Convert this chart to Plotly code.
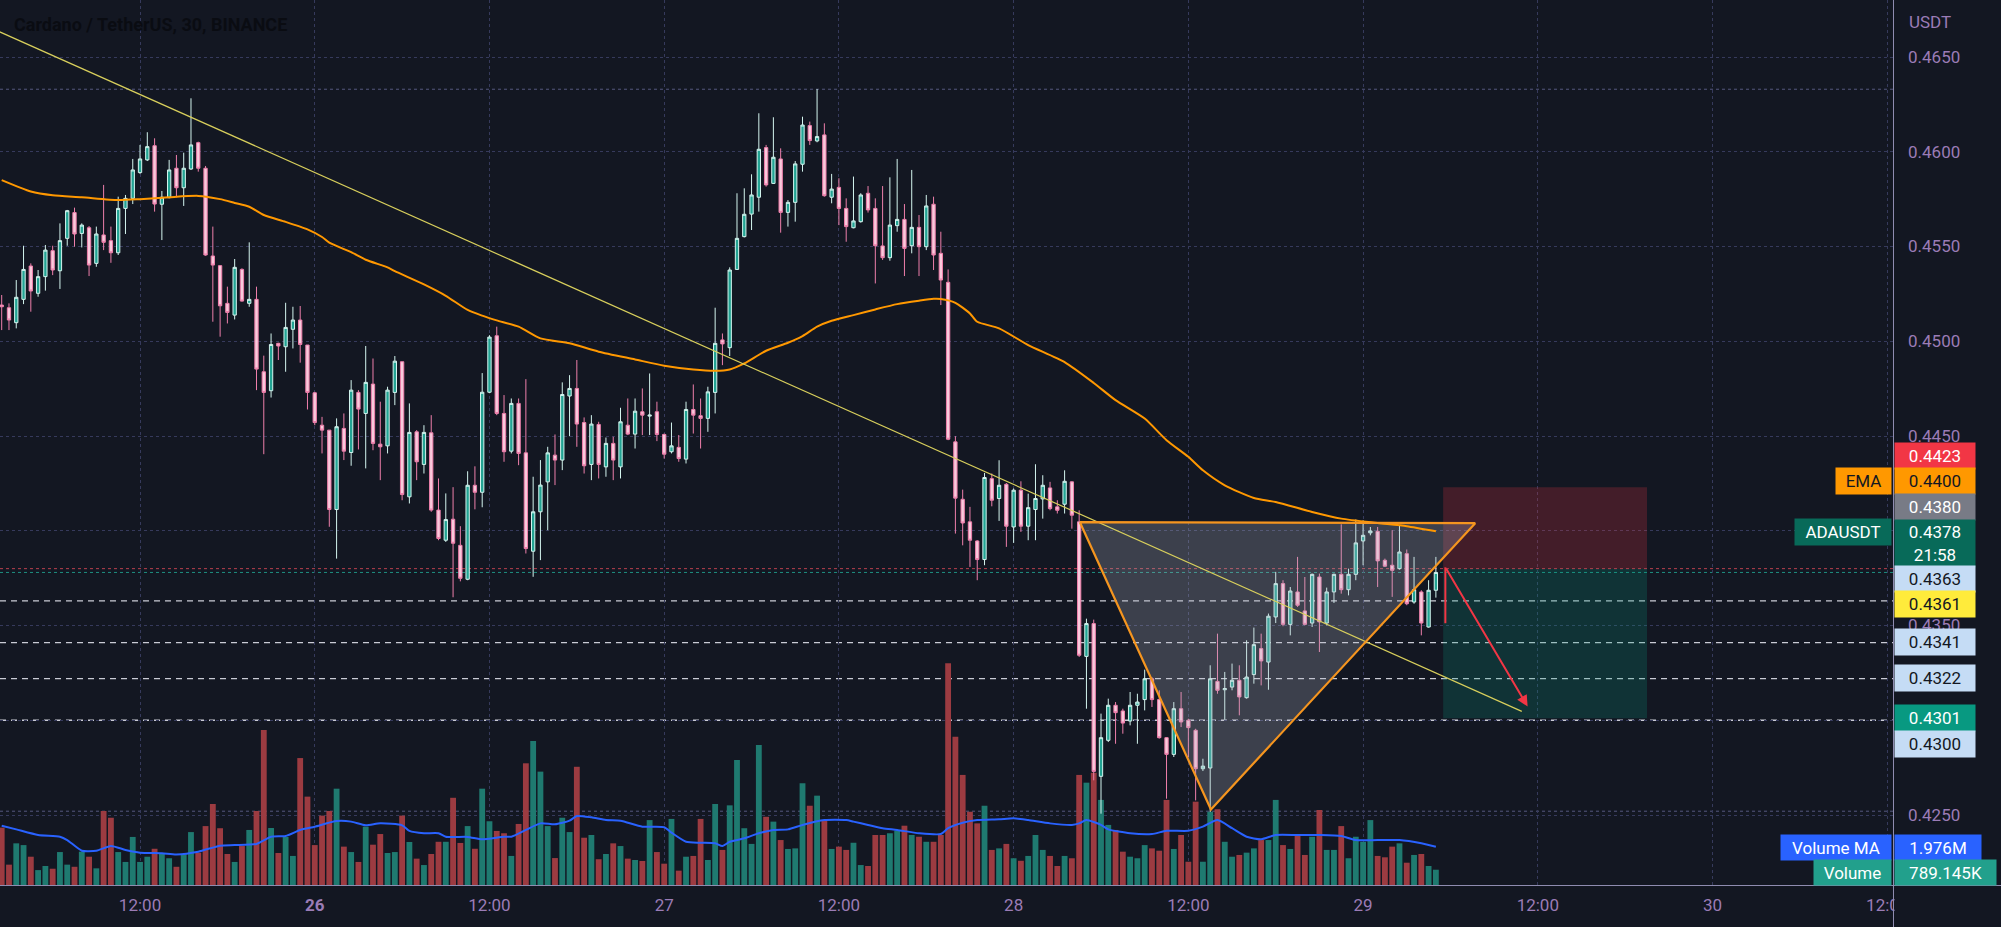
import pandas as pd
import plotly.graph_objects as go

FONT = "Roboto"
BG = "#131722"
AXIS_TXT = "#9b7cb6"

start = pd.Timestamp("2022-09-25 02:30")
step = pd.Timedelta(minutes=30)

opens = [0.45191,0.45177,0.45098,0.45221,0.45397,0.45253,0.45341,0.45478,0.45372,0.45543,
0.45679,0.45569,0.45599,0.45411,0.45561,0.45531,0.45467,0.45701,0.45754,0.45890,
0.45957,0.46032,0.45723,0.45758,0.45913,0.45810,0.45909,0.46048,0.45913,0.45450,
0.45399,0.45200,0.45138,0.45379,0.45200,0.45221,0.44839,0.44739,0.44989,0.44971,
0.45063,0.45112,0.44980,0.44728,0.44557,0.44531,0.44112,0.44540,0.44413,0.44730,
0.44619,0.44774,0.44457,0.44448,0.44730,0.44892,0.44179,0.44522,0.44350,0.44517,
0.44109,0.43950,0.44061,0.43923,0.43744,0.44240,0.44203,0.44731,0.45029,0.44619,
0.44420,0.44672,0.44411,0.43892,0.44100,0.44258,0.44399,0.44373,0.44711,0.44751,
0.44571,0.44350,0.44561,0.44337,0.44461,0.44337,0.44557,0.44510,0.44628,0.44605,
0.44628,0.44508,0.44417,0.44440,0.44378,0.44640,0.44607,0.44593,0.44730,0.45007,
0.44966,0.45379,0.45552,0.45671,0.45760,0.46022,0.45833,0.45962,0.45680,0.45733,
0.45934,0.46138,0.46057,0.46089,0.45760,0.45812,0.45701,0.45599,0.45631,0.45781,
0.45701,0.45503,0.45441,0.45610,0.45643,0.45504,0.45601,0.45499,0.45723,0.45464,
0.45311,0.44469,0.44166,0.44047,0.43946,0.43848,0.44275,0.44170,0.44245,0.44020,
0.44214,0.44024,0.44112,0.44168,0.44226,0.44126,0.44140,0.44258,0.44047,0.43337,
0.43510,0.42704,0.42894,0.43079,0.43049,0.42996,0.43079,0.43109,0.43219,0.43109,
0.42908,0.42820,0.43061,0.43000,0.42947,0.42744,0.42748,0.43205,0.43161,0.43175,
0.43211,0.43119,0.43241,0.43378,0.43307,0.43545,0.43721,0.43506,0.43677,0.43577,
0.43513,0.43756,0.43513,0.43677,0.43770,0.43689,0.43770,0.43946,0.43989,0.43997,
0.43844,0.43818,0.43800,0.43879,0.43624,0.43677,0.43492,0.43686]

highs = [0.45244,0.45200,0.45323,0.45504,0.45411,0.45376,0.45508,0.45504,0.45622,0.45693,
0.45705,0.45622,0.45608,0.45605,0.45825,0.45605,0.45763,0.45772,0.45962,0.46036,
0.46103,0.46071,0.45793,0.45957,0.45983,0.45995,0.46282,0.46053,0.45925,0.45605,
0.45402,0.45288,0.45434,0.45385,0.45522,0.45288,0.44924,0.45041,0.44992,0.45203,
0.45182,0.45186,0.44980,0.44733,0.44601,0.44531,0.44593,0.44619,0.44795,0.44742,
0.44975,0.44909,0.44681,0.44760,0.44922,0.44892,0.44672,0.44531,0.44557,0.44610,
0.44276,0.44197,0.44230,0.44024,0.44314,0.44340,0.44832,0.45032,0.45077,0.44716,
0.44698,0.44698,0.44800,0.44285,0.44373,0.44443,0.44508,0.44783,0.44821,0.44901,
0.44598,0.44610,0.44575,0.44492,0.44496,0.44649,0.44698,0.44698,0.44751,0.44830,
0.44681,0.44513,0.44571,0.44505,0.44681,0.44772,0.44698,0.44760,0.45177,0.45041,
0.45390,0.45781,0.45807,0.45881,0.46203,0.46036,0.46182,0.46018,0.45745,0.45951,
0.46185,0.46159,0.46331,0.46150,0.45883,0.45860,0.45754,0.45869,0.45781,0.45819,
0.45754,0.45819,0.45865,0.45962,0.45724,0.45904,0.45666,0.45772,0.45763,0.45578,
0.45379,0.44499,0.44217,0.44126,0.43950,0.44305,0.44302,0.44372,0.44252,0.44223,
0.44261,0.44196,0.44351,0.44293,0.44258,0.44161,0.44319,0.44261,0.44108,0.43536,
0.43531,0.43035,0.43114,0.43096,0.43061,0.43149,0.43140,0.43267,0.43228,0.43158,
0.42911,0.43096,0.43149,0.43008,0.42955,0.42797,0.43290,0.43457,0.43255,0.43299,
0.43290,0.43422,0.43489,0.43457,0.43563,0.43783,0.43739,0.43703,0.43862,0.43756,
0.43774,0.43774,0.43700,0.43774,0.44034,0.43800,0.44059,0.44055,0.44020,0.44020,
0.43853,0.44003,0.44029,0.43901,0.43862,0.43686,0.43739,0.43862]

lows = [0.45059,0.45059,0.45068,0.45196,0.45156,0.45235,0.45267,0.45349,0.45276,0.45504,
0.45499,0.45495,0.45344,0.45393,0.45481,0.45414,0.45455,0.45566,0.45724,0.45883,
0.45951,0.45684,0.45534,0.45754,0.45760,0.45714,0.45904,0.45895,0.45451,0.45103,
0.45024,0.45094,0.45115,0.45209,0.45182,0.44742,0.44404,0.44703,0.44901,0.44839,
0.44962,0.44887,0.44640,0.44557,0.44408,0.44021,0.43853,0.44373,0.44343,0.44429,
0.44329,0.44425,0.44267,0.44408,0.44663,0.44161,0.44144,0.44267,0.44302,0.44100,
0.43950,0.43941,0.43649,0.43733,0.43739,0.44113,0.44124,0.44726,0.44610,0.44364,
0.44408,0.44346,0.43880,0.43757,0.43845,0.44003,0.44241,0.44320,0.44499,0.44443,
0.44302,0.44267,0.44276,0.44285,0.44267,0.44276,0.44505,0.44434,0.44505,0.44505,
0.44473,0.44381,0.44408,0.44364,0.44355,0.44513,0.44434,0.44522,0.44619,0.44874,
0.44922,0.45376,0.45548,0.45587,0.45684,0.45816,0.45830,0.45573,0.45605,0.45631,
0.45895,0.46036,0.46050,0.45763,0.45728,0.45613,0.45525,0.45596,0.45626,0.45679,
0.45305,0.45429,0.45425,0.45578,0.45344,0.45464,0.45344,0.45481,0.45376,0.45191,
0.44478,0.43985,0.43923,0.43809,0.43739,0.43818,0.44129,0.44052,0.43915,0.43936,
0.43994,0.43950,0.43950,0.44064,0.44108,0.44091,0.44091,0.44011,0.43334,0.43061,
0.42683,0.42507,0.42885,0.42876,0.42929,0.42973,0.42876,0.43052,0.43070,0.42903,
0.42586,0.42806,0.42964,0.42806,0.42577,0.42732,0.42516,0.43140,0.43003,0.43158,
0.43026,0.43114,0.43193,0.43184,0.43161,0.43513,0.43496,0.43448,0.43598,0.43501,
0.43492,0.43360,0.43501,0.43619,0.43668,0.43659,0.43739,0.43818,0.43976,0.43703,
0.43809,0.43651,0.43795,0.43607,0.43615,0.43448,0.43489,0.43647]

closes = [0.45182,0.45112,0.45232,0.45379,0.45265,0.45341,0.45481,0.45376,0.45531,0.45689,
0.45566,0.45613,0.45402,0.45566,0.45522,0.45467,0.45701,0.45754,0.45904,0.45962,
0.46027,0.45724,0.45760,0.45904,0.45810,0.45913,0.46036,0.45913,0.45455,0.45402,
0.45187,0.45152,0.45390,0.45212,0.45221,0.44853,0.44730,0.44983,0.44975,0.45073,
0.45112,0.44983,0.44730,0.44571,0.44531,0.44112,0.44549,0.44420,0.44742,0.44642,
0.44783,0.44461,0.44443,0.44742,0.44895,0.44191,0.44519,0.44364,0.44519,0.44109,
0.43959,0.44059,0.43934,0.43749,0.44240,0.44203,0.44731,0.45022,0.44619,0.44417,
0.44672,0.44408,0.43906,0.44100,0.44241,0.44411,0.44373,0.44719,0.44751,0.44563,
0.44343,0.44563,0.44350,0.44461,0.44373,0.44575,0.44510,0.44631,0.44610,0.44610,
0.44508,0.44404,0.44448,0.44381,0.44640,0.44610,0.44593,0.44733,0.44989,0.44986,
0.45376,0.45543,0.45670,0.45772,0.46013,0.45825,0.45971,0.45680,0.45733,0.45936,
0.46141,0.46059,0.46080,0.45768,0.45803,0.45701,0.45605,0.45635,0.45772,0.45693,
0.45504,0.45441,0.45613,0.45643,0.45490,0.45601,0.45499,0.45714,0.45455,0.45323,
0.44483,0.44172,0.44041,0.43950,0.43848,0.44281,0.44161,0.44240,0.44024,0.44214,
0.44024,0.44122,0.44170,0.44240,0.44117,0.44108,0.44261,0.44082,0.43343,0.43510,
0.42730,0.42908,0.43079,0.43040,0.42985,0.43079,0.43096,0.43219,0.43109,0.42908,
0.42820,0.43061,0.42991,0.42961,0.42744,0.42758,0.43219,0.43158,0.43167,0.43211,
0.43123,0.43228,0.43399,0.43313,0.43549,0.43721,0.43506,0.43682,0.43607,0.43506,
0.43770,0.43519,0.43677,0.43770,0.43689,0.43770,0.43936,0.43976,0.43999,0.43841,
0.43813,0.43791,0.43888,0.43615,0.43689,0.43513,0.43686,0.43780]

volumes_m = [2.96,1.05,2.15,2.06,1.46,0.77,0.98,0.84,1.70,1.05,
0.94,1.72,1.46,0.86,3.82,3.47,1.70,1.19,2.48,1.19,
1.46,1.87,1.64,1.38,0.94,1.58,2.73,1.67,3.04,4.18,
2.93,1.60,1.19,2.01,2.84,3.82,8.00,2.94,1.65,2.48,
1.50,6.55,4.56,2.06,3.58,3.82,4.97,1.98,1.70,1.19,
3.01,2.08,2.63,1.65,1.70,3.58,2.22,1.36,1.03,1.60,
2.23,2.23,4.50,2.17,3.04,1.87,4.97,3.29,2.79,2.67,
1.50,3.15,6.28,7.43,5.85,3.04,1.39,3.47,2.73,6.10,
2.44,2.58,1.33,1.60,2.15,2.01,1.36,1.29,1.24,3.35,
1.70,1.10,3.41,0.74,1.46,1.50,3.41,1.29,4.18,1.81,
4.11,6.45,2.93,2.12,7.22,3.52,3.27,2.32,1.86,1.89,
5.25,4.09,4.61,3.35,1.86,1.98,1.81,2.18,1.03,0.98,
2.58,2.58,2.67,2.80,3.06,2.58,2.49,2.23,2.23,2.58,
11.44,7.65,5.68,3.78,3.18,4.09,1.81,1.89,2.12,1.38,
1.25,1.50,2.58,1.81,1.50,0.98,1.50,1.38,5.68,5.28,
5.79,4.39,3.10,2.84,1.72,1.46,1.38,2.06,1.89,1.77,
4.39,1.86,2.58,1.20,4.30,1.20,3.78,3.91,2.23,1.46,
1.55,1.67,1.89,2.32,2.32,4.39,2.06,1.86,2.53,1.55,
2.49,3.87,1.81,1.81,3.04,1.38,2.49,2.23,3.35,1.50,
1.43,1.98,2.15,1.15,1.55,1.60,0.98,0.789145]

# EMA at candle numbers
ema_idx = [1,5,8,12,17,20,24,28,31,33,35,37,40,43,45,46,49,51,54,55,59,62,65,67,69,
           72,75,79,83,88,92,96,99,101,103,106,109,111,113,115,118,121,124,127,129,130,
           132,134,135,138,142,147,151,154,158,161,164,166,169,173,176,181,185,190,194,198]
ema_val = [0.4585,0.4579,0.4577,0.4576,0.45745,0.4575,0.4576,0.45767,0.4575,0.4573,0.4571,
           0.45666,0.4563,0.4559,0.4555,0.4552,0.4547,0.4543,0.4539,0.4537,0.4530,0.4524,
           0.45165,0.45135,0.4511,0.45077,0.45015,0.44989,0.44945,0.44904,0.44871,0.44851,
           0.44844,0.44851,0.44883,0.4495,0.44992,0.45027,0.45077,0.45108,0.45138,0.45168,
           0.45196,0.45214,0.45224,0.45223,0.45203,0.45147,0.45103,0.45068,0.4498,0.4489,
           0.4478,0.44689,0.44592,0.44478,0.4439,0.44319,0.4424,0.44173,0.44152,0.44099,
           0.44064,0.44041,0.44024,0.43997]

# Volume MA (millions)
vma_idx = [1,3,6,9,10,12,14,16,18,20,23,25,28,31,33,36,38,40,42,44,47,49,51,53,56,57,59,
           61,62,65,67,70,71,73,75,77,79,80,82,84,86,89,92,93,95,97,99,100,101,103,105,107,
           109,111,114,117,118,120,122,124,127,130,131,133,135,138,140,142,145,148,149,150,
           152,153,156,159,161,164,166,168,170,172,174,176,179,182,185,187,190,193,196,198]
vma_val = [3.06,2.87,2.58,2.49,2.32,1.77,1.77,2.01,1.81,1.67,1.64,1.58,1.72,2.03,2.06,2.12,
           2.49,2.53,2.84,3.01,3.30,3.27,3.08,3.18,3.08,2.79,2.67,2.67,2.49,2.48,2.36,2.49,
           2.49,2.84,3.18,3.13,3.32,3.56,3.49,3.35,3.32,3.01,2.98,2.70,2.23,2.18,2.15,2.01,
           2.23,2.41,2.67,2.84,2.87,3.10,3.35,3.35,3.27,3.10,2.93,2.84,2.67,2.63,2.93,3.21,
           3.35,3.39,3.44,3.35,3.18,3.10,3.18,3.35,3.10,2.87,2.67,2.63,2.80,2.80,3.01,3.35,
           2.93,2.49,2.36,2.58,2.58,2.58,2.53,2.32,2.32,2.32,2.15,1.976]

# horizontal levels
dashed_levels = [0.4363, 0.4341, 0.4322, 0.4300]
session_high, session_low = 0.4633, 0.4252
entry, stop, target = 0.4380, 0.4423, 0.4301
last_price = 0.4378

# drawings, (candle number, price)
trend_pts = [(-5, 0.46731), (209.8, 0.43047)]
triangle_pts = [(149.1, 0.44045), (167.1, 0.42529), (203.4, 0.44040)]
arrow_from, arrow_to = (199.3, 0.43807), (210.6, 0.43073)
arrow_stem = [(199.3, 0.43807), (199.3, 0.43512)]
box_x = (199.0, 227.0)

y_ticks = [0.4250, 0.4300, 0.4350, 0.4400, 0.4450, 0.4500, 0.4550, 0.4600, 0.4650]
x_tick_idx = [20, 44, 68, 92, 116, 140, 164, 188, 212, 236, 260]
x_tick_txt = ["12:00", "<b>26</b>", "12:00", "27", "12:00", "28", "12:00", "29", "12:00", "30", "12:00"]

# ---------------------------------------------------------------
W, H = 2001, 927
MR, MB = 108, 42
PW, PH = W - MR, H - MB


def t(idx):
    return start + (idx - 1) * step


def pxx(x):
    return x / PW


def pyy(y):
    return 1 - y / PH


n = len(opens)
times = [t(i + 1) for i in range(n)]
up = [c >= o for o, c in zip(opens, closes)]
vol_colors = ["#1f7a70" if u else "#9c3b41" for u in up]

fig = go.Figure()

fig.add_trace(go.Bar(x=times, y=volumes_m, marker=dict(color=vol_colors, line=dict(width=0)),
                     width=0.8 * 30 * 60 * 1000, yaxis="y", hoverinfo="skip"))
fig.add_trace(go.Scatter(x=[t(i) for i in vma_idx], y=vma_val, mode="lines", yaxis="y",
                         line=dict(color="#2962ff", width=2, shape="spline", smoothing=0.6)))

# position boxes (long/short tool)
for y0, y1, col in ((entry, stop, "rgba(242,54,69,0.22)"), (target, entry, "rgba(8,153,129,0.22)")):
    fig.add_trace(go.Scatter(x=[t(box_x[0]), t(box_x[1]), t(box_x[1]), t(box_x[0]), t(box_x[0])],
                             y=[y0, y0, y1, y1, y0], mode="lines", fill="toself", fillcolor=col,
                             line=dict(width=0), yaxis="y2", hoverinfo="skip"))

tri_x = [t(p[0]) for p in triangle_pts] + [t(triangle_pts[0][0])]
tri_y = [p[1] for p in triangle_pts] + [triangle_pts[0][1]]
fig.add_trace(go.Scatter(x=tri_x, y=tri_y, mode="lines", fill="toself",
                         fillcolor="rgba(178,181,196,0.26)", line=dict(width=0), yaxis="y2"))

fig.add_trace(go.Candlestick(
    x=times, open=opens, high=highs, low=lows, close=closes, yaxis="y2",
    increasing=dict(fillcolor="#22a393", line=dict(color="#d4f5ef", width=1)),
    decreasing=dict(fillcolor="#f9cadc", line=dict(color="#ee7fab", width=1)),
    whiskerwidth=0))

fig.add_trace(go.Scatter(x=[t(i) for i in ema_idx], y=ema_val, mode="lines", yaxis="y2",
                         line=dict(color="#ff9800", width=2, shape="spline", smoothing=0.6)))
fig.add_trace(go.Scatter(x=[t(p[0]) for p in trend_pts], y=[p[1] for p in trend_pts],
                         mode="lines", yaxis="y2", line=dict(color="#d8cf5c", width=1.2)))
fig.add_trace(go.Scatter(x=tri_x, y=tri_y, mode="lines", yaxis="y2",
                         line=dict(color="#f5951f", width=2.2)))
fig.add_trace(go.Scatter(x=[t(p[0]) for p in arrow_stem], y=[p[1] for p in arrow_stem],
                         mode="lines", yaxis="y2", line=dict(color="#f23645", width=2)))

shapes = []
for lv in dashed_levels:
    shapes.append(dict(type="line", xref="paper", yref="y2", x0=0, x1=1, y0=lv, y1=lv,
                       line=dict(color="rgba(235,235,245,0.85)", width=1.3, dash="6px,5px"),
                       layer="below"))
for lv in (session_high, session_low):
    shapes.append(dict(type="line", xref="paper", yref="y2", x0=0, x1=1, y0=lv, y1=lv,
                       line=dict(color="#55587f", width=1, dash="dot"), layer="below"))
shapes.append(dict(type="line", xref="paper", yref="y2", x0=0, x1=1, y0=entry, y1=entry,
                   line=dict(color="#b8404f", width=1, dash="dot"), layer="below"))
shapes.append(dict(type="line", xref="paper", yref="y2", x0=0, x1=1, y0=last_price, y1=last_price,
                   line=dict(color="#1e8f80", width=1, dash="dot"), layer="below"))
# axis frame lines
shapes.append(dict(type="line", xref="paper", yref="paper", x0=pxx(PW + 0.5), x1=pxx(PW + 0.5),
                   y0=pyy(H), y1=1, line=dict(color="#8f8cb0", width=1)))
shapes.append(dict(type="line", xref="paper", yref="paper", x0=0, x1=pxx(W),
                   y0=pyy(PH + 0.5), y1=pyy(PH + 0.5), line=dict(color="#8f8cb0", width=1)))

annotations = []
# mask: time labels are clipped at the price scale, as in the original
annotations.append(dict(xref="paper", yref="paper", x=pxx(PW + 1), y=pyy(907), xanchor="left",
                        yanchor="middle", text=" ", showarrow=False, bgcolor=BG,
                        width=W - PW - 1, height=36, borderpad=0))
annotations.append(dict(xref="paper", yref="paper", x=pxx(12), y=pyy(25), xanchor="left", yanchor="middle",
                        text="<b>Cardano / TetherUS, 30, BINANCE</b>", showarrow=False,
                        font=dict(family=FONT, size=18, color="#0a0c12")))
annotations.append(dict(xref="paper", yref="paper", x=pxx(1907), y=pyy(22), xanchor="left", yanchor="middle",
                        text="USDT", showarrow=False, font=dict(family=FONT, size=17, color=AXIS_TXT)))
annotations.append(dict(xref="x", yref="y2", x=t(arrow_to[0]), y=arrow_to[1],
                        ax=t(arrow_from[0]), ay=arrow_from[1], axref="x", ayref="y2",
                        showarrow=True, arrowhead=2, arrowsize=1.1, arrowwidth=2,
                        arrowcolor="#f23645", text=""))


def box(text, yc, bg, fg, x0, w, h=26, anchor="left"):
    annotations.append(dict(xref="paper", yref="paper", x=pxx(x0), y=pyy(yc), xanchor=anchor,
                            yanchor="middle", text=text, showarrow=False, bgcolor=bg,
                            font=dict(family=FONT, size=17, color=fg), width=w, height=h,
                            borderpad=0, align="center", valign="middle"))


R0 = PW + 1
L0 = PW - 1
box(f"{stop:.4f}", 456, "#f23645", "#ffffff", R0, 80)
box("EMA", 481, "#ff9800", "#131722", L0, 55, anchor="right")
box(f"{ema_val[-1]:.4f}", 481, "#ff9800", "#131722", R0, 80)
box(f"{entry:.4f}", 507, "#787b86", "#ffffff", R0, 80)
box("ADAUSDT", 532, "#086a59", "#ffffff", L0, 96, anchor="right")
box(f"{last_price:.4f}<br>21:58", 543, "#086a59", "#ffffff", R0, 80, h=47)
box("0.4363", 579, "#c5dcf5", "#131722", R0, 80)
box("0.4361", 604, "#ffeb3b", "#131722", R0, 80)
box("0.4341", 642, "#c5dcf5", "#131722", R0, 80)
box("0.4322", 678, "#c5dcf5", "#131722", R0, 80)
box(f"{target:.4f}", 718, "#089981", "#ffffff", R0, 80)
box("0.4300", 744, "#c5dcf5", "#131722", R0, 80)
box("Volume MA", 847, "#2962ff", "#ffffff", L0, 110, h=25, anchor="right")
box(f"{vma_val[-1]:.3f}M", 847, "#2962ff", "#ffffff", R0, 86, h=25)
box("Volume", 872, "#22a08c", "#ffffff", L0, 77, h=25, anchor="right")
box(f"{volumes_m[-1]*1000:.3f}K", 872, "#22a08c", "#ffffff", R0, 101, h=25)

# price axis scale: 0.4650 at 57 px, 0.4250 at 815 px
ppx = (815 - 57) / 0.04
y_top = 0.4650 + 57 / ppx
y_bot = 0.4250 - (PH - 815) / ppx

fig.update_layout(
    width=W, height=H, margin=dict(l=0, r=MR, t=0, b=MB),
    paper_bgcolor=BG, plot_bgcolor=BG, showlegend=False,
    boxgap=0.35,
    xaxis=dict(range=[t(0.766), t(260.79)], rangeslider=dict(visible=False),
               tickvals=[t(i) for i in x_tick_idx], ticktext=x_tick_txt,
               showgrid=True, gridcolor="#363a5c", griddash="dot", gridwidth=1,
               zeroline=False, showline=False, ticks="", ticklabelstandoff=8,
               tickfont=dict(family=FONT, size=17, color=AXIS_TXT), automargin=False),
    yaxis=dict(range=[0, PH * 0.0516], visible=False, showgrid=False, fixedrange=True),
    yaxis2=dict(range=[y_bot, y_top], overlaying="y", side="right", tickvals=y_ticks,
                tickformat=".4f", showgrid=True, gridcolor="#363a5c", griddash="dot",
                gridwidth=1, zeroline=False, showline=False, ticks="", ticklabelstandoff=14,
                tickfont=dict(family=FONT, size=17, color=AXIS_TXT), automargin=False),
    shapes=shapes, annotations=annotations,
)

fig.write_html("out.html")
